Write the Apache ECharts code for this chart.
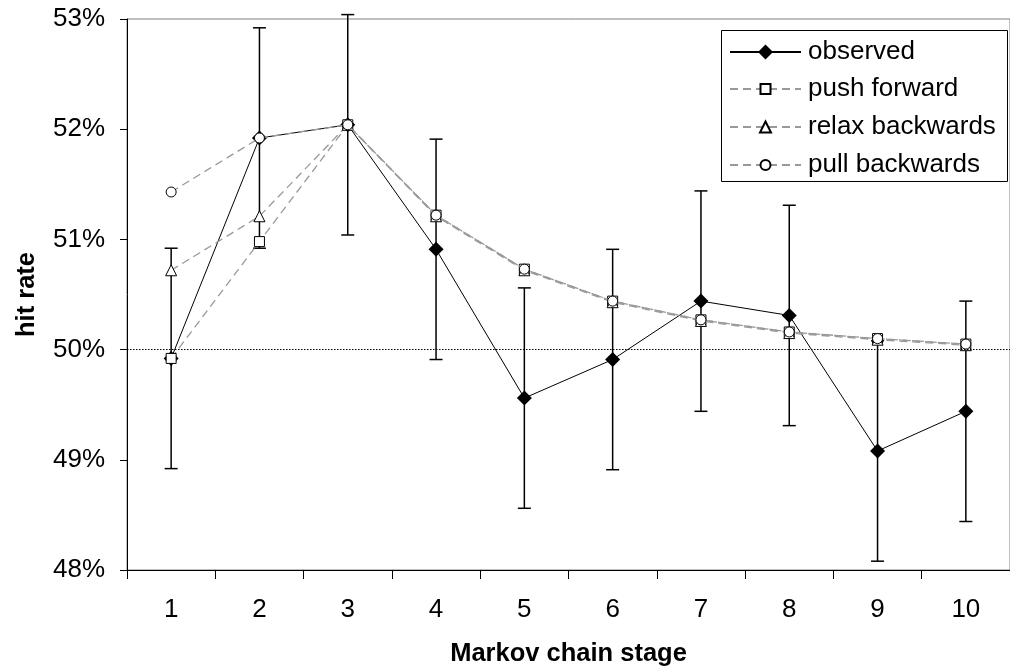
<!DOCTYPE html>
<html>
<head>
<meta charset="utf-8">
<script src="https://cdn.jsdelivr.net/npm/echarts@6/dist/echarts.min.js"></script>
<style>
html,body{margin:0;padding:0;background:#fff;}
#chart{width:1010px;height:672px;}
</style>
</head>
<body>
<div id="chart"></div>
<script>
// Data
const stages = ['1', '2', '3', '4', '5', '6', '7', '8', '9', '10'];
const observed = [49.92, 51.92, 52.04, 50.91, 49.56, 49.91, 50.44, 50.31, 49.08, 49.44];
const observedErr = [1.0, 1.0, 1.0, 1.0, 1.0, 1.0, 1.0, 1.0, 1.0, 1.0];
const pushForward = [49.92, 50.98, 52.04, 51.22, 50.73, 50.44, 50.27, 50.16, 50.10, 50.05];
const relaxBackwards = [50.72, 51.21, 52.04, 51.21, 50.72, 50.43, 50.26, 50.15, 50.09, 50.04];
const pullBackwards = [51.43, 51.92, 52.04, 51.22, 50.73, 50.44, 50.27, 50.16, 50.10, 50.05];
const seriesNames = ['observed', 'push forward', 'relax backwards', 'pull backwards'];
const yTicks = [48, 49, 50, 51, 52, 53];
const referenceLevel = 50;

const FONT = '"Liberation Sans", Arial, sans-serif';
const errData = observed.map((v, i) => [i, v - observedErr[i], v + observedErr[i]]);

const chart = echarts.init(document.getElementById('chart'), null, {renderer: 'canvas'});

function modelSeries(name, data, symbol, size, z) {
  return {
    name: name, type: 'line', data: data, z: z,
    symbol: symbol, symbolSize: size, showAllSymbol: true,
    itemStyle: {color: '#fff', borderColor: '#000', borderWidth: 1},
    lineStyle: {color: '#999', width: 1.3, type: [8, 5]},
    emphasis: {disabled: true}
  };
}

// one legend per row so each legend marker can keep its own size
const legendRowCenters = [52, 89, 127, 165];
const legendMarkerSizes = [15, 10, 11, 10];
const legends = seriesNames.map((n, k) => {
  const ih = legendMarkerSizes[k] / 0.8;
  return {
    z: 20, left: 729, top: legendRowCenters[k] - 13, orient: 'vertical',
    data: [n], itemWidth: 71, itemHeight: ih, padding: 0,
    textStyle: {fontFamily: FONT, fontSize: 26, color: '#000', lineHeight: 26, padding: [0, 0, 0, 2]},
    selectedMode: false
  };
});

chart.setOption({
  animation: false,
  backgroundColor: '#fff',
  textStyle: {fontFamily: FONT, color: '#000'},
  grid: {left: 127, top: 19, width: 894.4, height: 555, show: true, borderColor: '#808080', borderWidth: 1},
  graphic: [{
    type: 'rect', z: 15, left: 721, top: 30,
    shape: {width: 286, height: 151},
    style: {fill: '#fff', stroke: '#000', lineWidth: 1}
  }],
  legend: legends,
  xAxis: {
    type: 'category', data: stages, boundaryGap: true,
    name: 'Markov chain stage', nameLocation: 'middle', nameGap: 71,
    nameTextStyle: {fontFamily: FONT, fontSize: 25.5, fontWeight: 'bold', color: '#000'},
    axisLine: {lineStyle: {color: '#000', width: 1}},
    axisTick: {show: true, length: 9, interval: 0, lineStyle: {color: '#000'}},
    axisLabel: {fontFamily: FONT, fontSize: 26, color: '#000', margin: 27, interval: 0},
    splitLine: {show: false}
  },
  yAxis: {
    type: 'value', min: yTicks[0], max: yTicks[yTicks.length - 1], interval: 1,
    name: 'hit rate', nameLocation: 'middle', nameGap: 87, nameRotate: 90,
    nameTextStyle: {fontFamily: FONT, fontSize: 25.5, fontWeight: 'bold', color: '#000'},
    axisLine: {show: true, lineStyle: {color: '#000', width: 1}},
    axisTick: {show: true, length: 7, lineStyle: {color: '#000'}},
    axisLabel: {fontFamily: FONT, fontSize: 26, color: '#000', margin: 22, formatter: '{value}%'},
    splitLine: {show: false}
  },
  series: [
    {
      name: 'errors', type: 'custom', z: 1, data: errData, silent: true,
      renderItem: function (params, api) {
        const i = api.value(0);
        const lo = api.coord([i, api.value(1)]);
        const hi = api.coord([i, api.value(2)]);
        const cw = 6.5;
        const st = {stroke: '#000', lineWidth: 1.5, fill: null};
        return {
          type: 'group',
          children: [
            {type: 'line', shape: {x1: lo[0], y1: lo[1], x2: hi[0], y2: hi[1]}, style: st},
            {type: 'line', shape: {x1: lo[0] - cw, y1: lo[1], x2: lo[0] + cw, y2: lo[1]}, style: st},
            {type: 'line', shape: {x1: hi[0] - cw, y1: hi[1], x2: hi[0] + cw, y2: hi[1]}, style: st}
          ]
        };
      },
      encode: {x: 0, y: [1, 2]}
    },
    {
      name: 'observed', type: 'line', data: observed, z: 2,
      symbol: 'diamond', symbolSize: 15, showAllSymbol: true,
      itemStyle: {color: '#000'},
      lineStyle: {color: '#000', width: 1},
      emphasis: {disabled: true},
      markLine: {
        silent: true, symbol: 'none', label: {show: false},
        lineStyle: {color: '#000', width: 1, type: [1.5, 1.5]},
        data: [{yAxis: referenceLevel}]
      }
    },
    modelSeries('push forward', pushForward, 'rect', 10, 3),
    modelSeries('relax backwards', relaxBackwards, 'triangle', 11, 4),
    modelSeries('pull backwards', pullBackwards, 'circle', 10, 5)
  ]
});
</script>
</body>
</html>
